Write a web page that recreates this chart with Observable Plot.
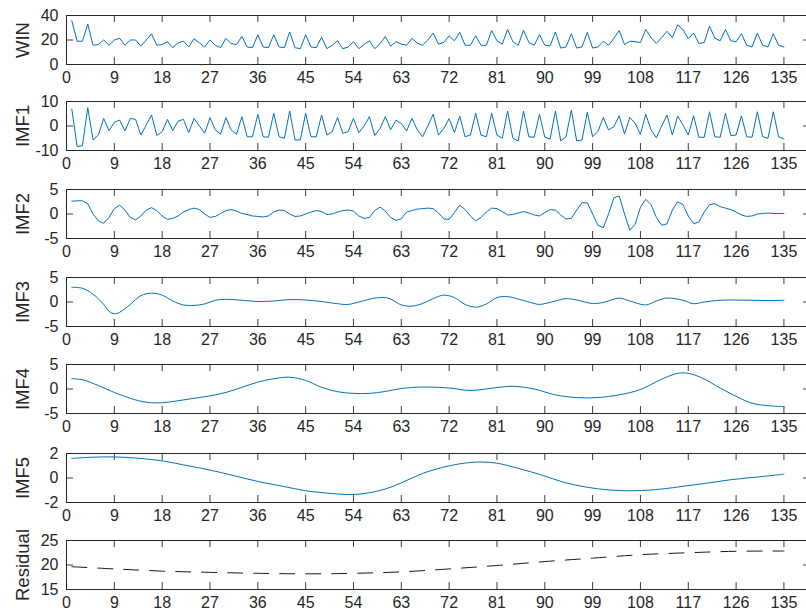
<!DOCTYPE html>
<html><head><meta charset="utf-8">
<script src="https://cdn.jsdelivr.net/npm/d3@7"></script>
<script src="https://cdn.jsdelivr.net/npm/@observablehq/plot@0.6"></script>
<style>
html,body{margin:0;padding:0;background:#fff;overflow:hidden;}
#chart{position:relative;width:806px;height:616px;overflow:hidden;background:#fff;}
#chart > div{position:absolute;left:0;width:810px;overflow:visible;}
#chart svg{overflow:visible;}
</style></head><body><div id="chart"></div>
<script>
// ---- data ----
const xTicks = [0,9,18,27,36,45,54,63,72,81,90,99,108,117,126,135];

const win = [35.7,19,19,33,15.7,16.3,20,15.7,20,21.4,15.7,20,20,15,20,25,15.7,16.3,18.6,13.7,
17.7,19,14.3,21,17.7,14.3,20,15.7,13.7,21.4,17,16.3,23,14.3,13.7,24.3,14.3,13.7,24.3,14.3,
13.7,26.6,13.7,12.9,24.3,14.3,13.7,22.3,12.9,15.7,19.4,12.9,14.3,18.6,12.9,16.3,19.4,12.9,17,22.9,
14.9,18.6,16.6,15.7,21.4,17.5,15.7,20,25.7,16.6,18,23.4,19.4,26.3,15.7,15.7,23.4,15.7,15.7,27.7,
19.4,16.6,28.6,18.6,15.7,28,18,15.7,24.3,15.7,15.1,26.6,13.4,14.3,25.1,13.4,14.3,26.3,13.4,14.3,
19,15.7,21.4,27.7,16.3,19,18.6,18,28.6,22,17.1,22,27.1,22,32.3,28.6,20.9,25.7,17.1,18,
31.4,21.4,19.4,28.6,19.4,18.6,25.1,15.7,14.3,25.7,15.7,14.3,25.1,15.7,14.3];

const imf1 = [6.9,-8.4,-8,7.5,-5.7,-3.7,3.1,-1.9,1.5,2.4,-2,3.1,2.7,-3.7,0.4,4.5,-3.9,-2.3,2.7,-1.9,
2,2.7,-2.7,3.1,0,-3,3.4,-1.6,-3.3,3.4,-1.6,-3.4,3.8,-4.4,-4.4,4.8,-4.4,-4.6,5.2,-4.4,
-5,6.1,-5.7,-5.7,5.2,-4.4,-4.4,4.5,-3.7,-2.3,3.5,-3,-2.3,3.1,-2.7,0,3.8,-3.9,-1,3.8,
-1.5,2.4,1,-2,3.1,-1.5,-4.4,0,4.8,-3.7,-1,3,-2.7,4,-4.4,-3.7,5.2,-3.7,-4.4,5.2,
-3.7,-5,6.1,-5,-6.1,6.1,-4.4,-4.6,4.8,-4.6,-5.3,6.1,-6.1,-4.4,6.5,-6.1,-5.7,5.6,-4.4,-2.3,
3.5,-1.6,-0.3,4.2,-3.3,3.5,1.1,-3.4,4.8,-1.6,-4.8,0,4.5,-3.7,4.1,0.4,-3.7,4.2,-4.6,-4.6,
5.8,-4.4,-4.6,5.2,-3.9,-3.7,4.1,-4.4,-4.6,5.8,-4.4,-5,5.8,-4.4,-5.3];

const imf2 = [2.6,2.7,2.7,2.1,0,-1.4,-1.9,-0.7,1.1,1.8,0.8,-0.7,-1.2,-0.4,0.8,1.3,0.7,-0.4,-1.1,-0.9,
-0.4,0.4,0.9,1.2,0.9,0,-0.7,-0.5,0.1,0.7,0.9,0.6,0.1,-0.1,-0.4,-0.5,-0.6,-0.4,0.4,0.8,
0.7,0,-0.5,-0.4,0,0.4,0.7,0.5,-0.1,0,0.4,0.7,0.8,0.6,-0.4,-0.9,-0.7,0.7,1.4,0.6,
-0.7,-1.3,-1,0.4,0.7,1,1.1,1.2,1.1,0.2,-1,-1.1,0.3,1.8,0.9,-0.4,-1.4,-0.7,0.4,1.2,
1.1,0.5,-0.2,-0.1,0.2,0.5,0.2,-0.2,-0.4,0.3,0.9,0.8,-0.2,-1,-0.9,0.8,2.3,2.3,0,-2.3,
-2.8,0,3.3,3.7,0,-3.3,-2.1,1.4,3,1.9,-0.7,-2.3,-2,0.8,2.5,1.9,-0.4,-2,-1.6,0.4,
1.9,2.1,1.5,1.2,0.9,0.4,-0.2,-0.5,-0.4,0,0.1,0.2,0.1,0.1,0.1];

const imf3T = [1,3,5,7,8,9,10,12,14,16,18,20,22,24,26,28,30,33,36,39,42,45,48,51,53,55,58,60,61,63,65,67,69,71,73,75,77,79,81,83,85,88,89,92,94,96,99,101,104,106,109,111,113,116,118,120,123,126,129,132,135];
const imf3V = [3,2.8,1.6,-0.5,-1.9,-2.4,-2.1,-0.5,1.3,1.8,1.4,0.2,-0.6,-0.7,-0.4,0.35,0.55,0.35,0.1,0.2,0.5,0.4,0.1,-0.35,-0.5,0,0.8,0.9,0.6,-0.6,-0.85,-0.3,0.7,1.4,0.9,-0.5,-1.05,-0.4,0.9,1.1,0.6,-0.3,-0.5,0.2,0.7,0.4,-0.3,-0.1,0.8,0.2,-0.6,0.2,0.8,0.35,-0.35,0,0.35,0.4,0.35,0.3,0.35];

const imf4T = [1,3,6,9,12,15,18,21,24,27,30,33,36,39,42,45,48,51,54,57,60,63,67,72,76,81,84,88,92,96,100,104,108,112,115,117,119.5,123,126,129,132,135];
const imf4V = [2.1,1.9,0.7,-0.7,-1.9,-2.7,-2.8,-2.4,-1.9,-1.4,-0.7,0.35,1.4,2.1,2.4,1.75,0.35,-0.55,-0.9,-0.9,-0.5,0.1,0.4,0.2,-0.3,0.3,0.55,0,-1.2,-1.75,-1.75,-1.2,-0.1,2,3.2,3.2,2.3,0.2,-1.5,-2.9,-3.4,-3.6];

const imf5T = [1,5,9,13,18,22,27,32,36,41,45,50,53,56,60,63,67,72,76,78.5,81,85,89.5,93.5,98,102.5,107,112,116,120.5,125,130,135];
const imf5V = [1.6,1.7,1.72,1.63,1.4,1.07,0.65,0.14,-0.28,-0.7,-1.04,-1.27,-1.35,-1.27,-0.9,-0.4,0.37,0.99,1.27,1.3,1.21,0.79,0.23,-0.34,-0.76,-0.99,-1.04,-0.9,-0.68,-0.42,-0.14,0.08,0.31];

const resT = [1,9,18,27,36,45,54,63,72,81,90,99,108,117,126,135];
const resV = [19.65,19.2,18.75,18.5,18.3,18.2,18.3,18.6,19.2,19.9,20.7,21.4,22.1,22.5,22.8,22.85];

const names = ["WIN","IMF1","IMF2","IMF3","IMF4","IMF5","Residual"];
const yDomains = [[0,40],[-10,10],[-5,5],[-5,5],[-5,5],[-2,2],[15,25]];
const yTicks = [[0,20,40],[-10,0,10],[-5,0,5],[-5,0,5],[-5,0,5],[-2,0,2],[15,20,25]];

// ---- build tables ----
const steps = d3.range(1, win.length + 1);
const dense = (vals) => vals.map((v, i) => ({t: steps[i], v}));
const sparse = (ts, vs) => ts.map((t, i) => ({t, v: vs[i]}));
const series = [
  {data: dense(win)}, {data: dense(imf1)}, {data: dense(imf2)},
  {data: sparse(imf3T, imf3V), curve: "catmull-rom"},
  {data: sparse(imf4T, imf4V), curve: "catmull-rom"},
  {data: sparse(imf5T, imf5V), curve: "catmull-rom"},
  {data: sparse(resT, resV), curve: "catmull-rom", dashed: true}
];

// ---- layout ----
const FONT = '"Liberation Sans", Arial, Helvetica, sans-serif';
const INK = "#262626";
const W = 810, ML = 66, MT = 14, MB = 25, H = 88;
const FW = W - ML, FH = H - MT - MB, TICK = 7;
const tops = [15, 101, 189, 277, 364, 453, 540];

const root = document.getElementById("chart");
names.forEach((name, k) => {
  const s = series[k];
  const svg = Plot.plot({
    width: W, height: H,
    marginLeft: ML, marginRight: 0, marginTop: MT, marginBottom: MB,
    style: {fontSize: "16px", fontFamily: FONT, color: INK, background: "transparent", maxWidth: "none", overflow: "visible"},
    x: {domain: [0, 140]},
    y: {domain: yDomains[k]},
    marks: [
      Plot.ruleX(xTicks, {x: d => d, stroke: INK, strokeWidth: 0.9, insetTop: FH - TICK}),
      Plot.ruleX(xTicks, {x: d => d, stroke: INK, strokeWidth: 0.9, insetBottom: FH - TICK}),
      Plot.ruleY(yTicks[k], {y: d => d, stroke: INK, strokeWidth: 0.9, insetRight: FW - TICK}),
      Plot.ruleY(yTicks[k], {y: d => d, stroke: INK, strokeWidth: 0.9, insetLeft: FW - TICK}),
      Plot.line(s.data, {
        x: "t", y: "v",
        stroke: s.dashed ? "#1a1a1a" : "#0072BD",
        strokeWidth: 1,
        strokeDasharray: s.dashed ? "15,11" : null,
        curve: s.curve || "linear"
      }),
      Plot.frame({stroke: INK, strokeWidth: 1}),
      Plot.axisX({ticks: xTicks, tickSize: 0, tickPadding: 7, tickFormat: d => String(d), label: null, fill: INK}),
      Plot.axisY({ticks: yTicks[k], tickSize: 0, tickPadding: 8, tickFormat: d => String(d), label: null, fill: INK}),
      Plot.text([name], {text: d => d, frameAnchor: "left", textAnchor: "middle", lineAnchor: "middle", dx: -43, rotate: -90, fontSize: 18.5, fill: INK})
    ]
  });
  const holder = document.createElement("div");
  holder.style.top = (tops[k] - MT) + "px";
  holder.appendChild(svg);
  root.appendChild(holder);
});
</script>
</body></html>
